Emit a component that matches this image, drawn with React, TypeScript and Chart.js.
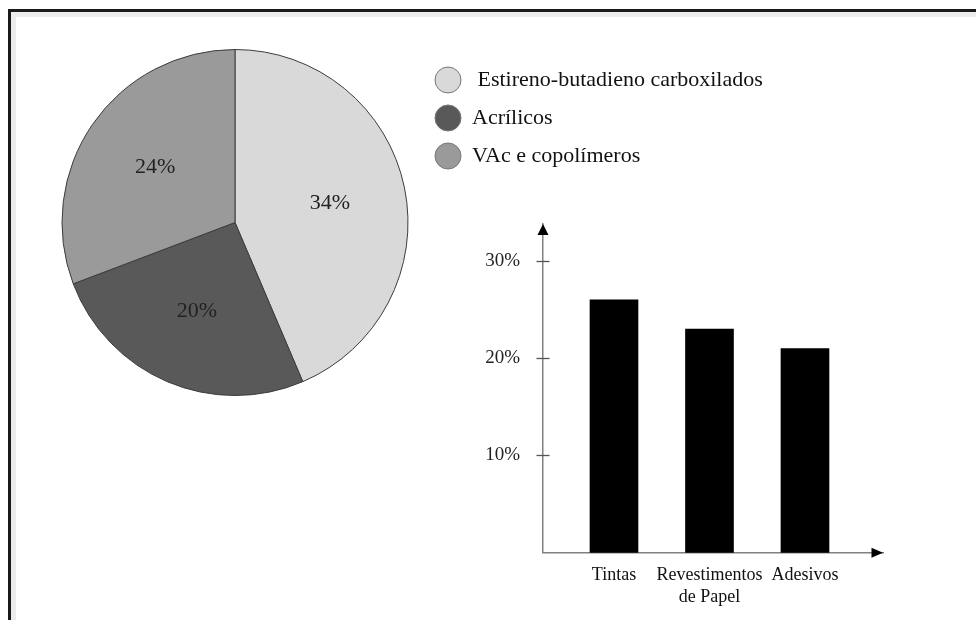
import React, { useEffect, useRef } from 'react';
import { Chart, registerables } from 'chart.js';

Chart.register(...registerables);

const SERIF = "'Liberation Serif', 'Times New Roman', serif";

// Pie data
const pieLabels = [' Estireno-butadieno carboxilados', 'Acrílicos', 'VAc e copolímeros'];
const pieValues = [34, 20, 24];
const pieColors = ['#d9d9d9', '#595959', '#9a9a9a'];

// Bar data
const barCategories = [['Tintas'], ['Revestimentos', 'de Papel'], ['Adesivos']];
const barValues = [26, 23, 21];
const yTickValues = [10, 20, 30];

const LEGEND_FONT = 22;
const LEGEND_BOX_W = 26;
const LEGEND_PAD = 16;

const pieValueLabels = {
  id: 'pieValueLabels',
  afterDatasetsDraw(chart: any) {
    const ctx = chart.ctx;
    const meta = chart.getDatasetMeta(0);
    const data = chart.data.datasets[0].data;
    ctx.save();
    ctx.font = `22px ${SERIF}`;
    ctx.fillStyle = '#222';
    ctx.textAlign = 'center';
    ctx.textBaseline = 'middle';
    meta.data.forEach((arc: any, i: number) => {
      const { x, y, startAngle, endAngle, outerRadius } = arc.getProps(
        ['x', 'y', 'startAngle', 'endAngle', 'outerRadius'],
        true
      );
      const mid = (startAngle + endAngle) / 2;
      const r = outerRadius * 0.56;
      ctx.fillText(data[i] + '%', x + Math.cos(mid) * r, y + Math.sin(mid) * r);
    });
    ctx.restore();
  },
};

const axisArrows = {
  id: 'axisArrows',
  afterDraw(chart: any) {
    const { ctx, chartArea } = chart;
    const { left, top, right, bottom } = chartArea;
    const y = chart.scales.y;
    ctx.save();
    ctx.fillStyle = '#000';
    ctx.beginPath();
    ctx.moveTo(left, top);
    ctx.lineTo(left - 5.5, top + 11);
    ctx.lineTo(left + 5.5, top + 11);
    ctx.closePath();
    ctx.fill();
    ctx.beginPath();
    ctx.moveTo(right, bottom);
    ctx.lineTo(right - 11.5, bottom - 5);
    ctx.lineTo(right - 11.5, bottom + 5);
    ctx.closePath();
    ctx.fill();
    ctx.strokeStyle = '#555';
    ctx.lineWidth = 1.3;
    y.ticks.forEach((t: any) => {
      const py = Math.round(y.getPixelForValue(t.value)) + 0.5;
      ctx.beginPath();
      ctx.moveTo(left - 6.5, py);
      ctx.lineTo(left + 6.5, py);
      ctx.stroke();
    });
    ctx.restore();
  },
};

export default function App() {
  const pieRef = useRef<HTMLCanvasElement | null>(null);
  const barRef = useRef<HTMLCanvasElement | null>(null);

  useEffect(() => {
    // legend width as Chart.js computes it, so that the legend starts at a fixed x
    const mctx = document.createElement('canvas').getContext('2d') as CanvasRenderingContext2D;
    mctx.font = `${LEGEND_FONT}px ${SERIF}`;
    const tw = Math.max(...pieLabels.map((l) => mctx.measureText(l).width));
    const legendW = LEGEND_BOX_W + LEGEND_FONT / 2 + tw + LEGEND_PAD + 10;
    const PIE_W = 820;
    const legendLeft = 409;
    const padRight = PIE_W - legendLeft - legendW;

    const pie = new Chart(pieRef.current as HTMLCanvasElement, {
      type: 'pie',
      data: {
        labels: pieLabels,
        datasets: [
          {
            data: pieValues,
            backgroundColor: pieColors,
            borderColor: '#3c3c3c',
            borderWidth: 1,
            radius: 173,
            clip: false,
          } as any,
        ],
      },
      options: {
        animation: false,
        responsive: false,
        events: [],
        layout: { padding: { top: 42, left: 41, right: padRight, bottom: 39 } },
        plugins: {
          tooltip: { enabled: false },
          legend: {
            position: 'right',
            align: 'start',
            labels: {
              usePointStyle: true,
              pointStyle: 'circle',
              pointStyleWidth: LEGEND_BOX_W,
              boxHeight: 18.4,
              padding: LEGEND_PAD,
              color: '#111',
              font: { family: SERIF, size: LEGEND_FONT },
              generateLabels: (chart: any) =>
                (Chart as any).overrides.pie.plugins.legend.labels
                  .generateLabels(chart)
                  .map((l: any) => ({ ...l, strokeStyle: '#777', lineWidth: 1 })),
            },
          } as any,
        },
      },
      plugins: [pieValueLabels],
    });

    const bar = new Chart(barRef.current as HTMLCanvasElement, {
      type: 'bar',
      data: {
        datasets: [
          {
            data: barValues.map((v, i) => ({ x: i + 1, y: v })),
            backgroundColor: '#000',
            borderWidth: 0,
            barThickness: 48,
          } as any,
        ],
      },
      options: {
        animation: false,
        responsive: false,
        events: [],
        layout: { padding: { top: 24, right: 17, left: 0, bottom: 0 } },
        plugins: { legend: { display: false }, tooltip: { enabled: false } },
        scales: {
          x: {
            type: 'linear',
            offset: false,
            min: 0.2565,
            max: 3.817,
            afterBuildTicks: (s: any) => {
              s.ticks = barCategories.map((_, i) => ({ value: i + 1 }));
            },
            afterFit: (s: any) => {
              s.height = 67.3;
              s.paddingLeft = 0;
              s.paddingRight = 0;
            },
            grid: { offset: false, drawOnChartArea: false, drawTicks: false },
            border: { color: '#808080', width: 1.5 },
            ticks: {
              padding: 12,
              color: '#111',
              maxRotation: 0,
              autoSkip: false,
              font: { family: SERIF, size: 18, lineHeight: 1.2 },
              callback: (_v: any, i: number) => barCategories[i],
            },
          } as any,
          y: {
            min: 0,
            max: 33.8,
            afterBuildTicks: (s: any) => {
              s.ticks = yTickValues.map((v) => ({ value: v }));
            },
            afterFit: (s: any) => {
              s.width = 83;
              s.paddingTop = 0;
              s.paddingBottom = 0;
            },
            grid: { drawOnChartArea: false, drawTicks: false },
            border: { color: '#808080', width: 1.5 },
            ticks: {
              padding: 23,
              color: '#222',
              font: { family: SERIF, size: 19 },
              callback: (v: any) => v + '%',
            },
          } as any,
        },
      },
      plugins: [axisArrows],
    });

    return () => {
      pie.destroy();
      bar.destroy();
    };
  }, []);

  return (
    <div
      style={{
        position: 'fixed',
        left: 0,
        top: 0,
        width: 976,
        height: 620,
        overflow: 'hidden',
        background: '#fff',
      }}
    >
      <div
        style={{
          position: 'absolute',
          left: 8,
          top: 9,
          width: 1200,
          height: 900,
          borderTop: '3px solid #1a1a1a',
          borderLeft: '3px solid #1a1a1a',
          boxShadow: 'inset 5px 5px 0 #ececec',
        }}
      />
      <canvas
        ref={pieRef}
        width={820}
        height={420}
        style={{ position: 'absolute', left: 10, top: 11, width: 820, height: 420 }}
      />
      <canvas
        ref={barRef}
        width={440}
        height={420}
        style={{ position: 'absolute', left: 460, top: 200, width: 440, height: 420 }}
      />
    </div>
  );
}
